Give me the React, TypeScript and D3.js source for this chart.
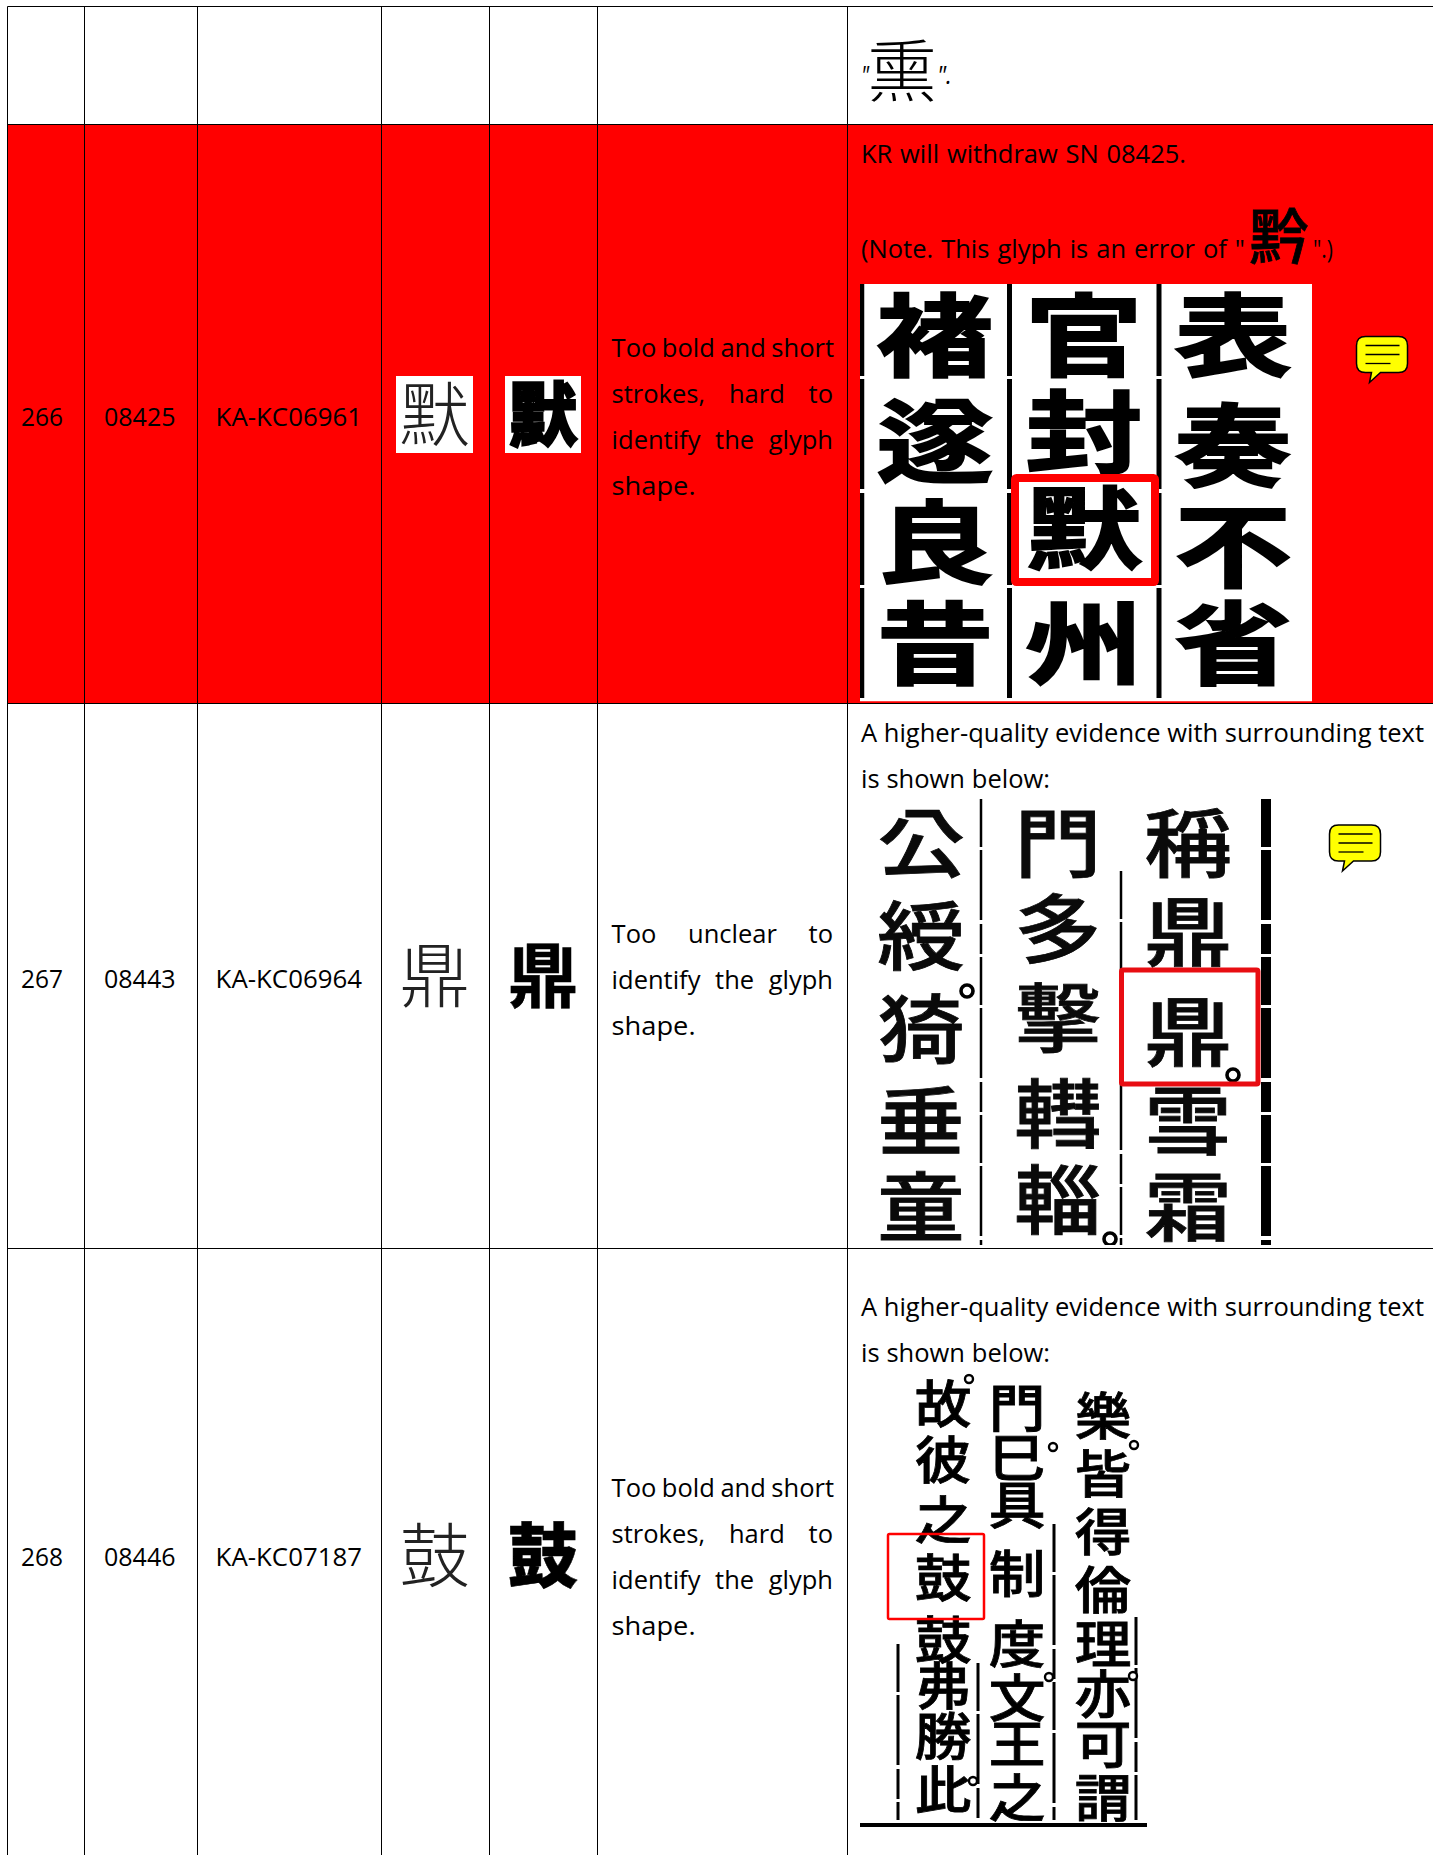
import * as d3 from "d3";
import React, { useRef, useEffect } from "react";

// table content
const rowNumbers = ["266", "267", "268"];
const sourceNumbers = ["08425", "08443", "08446"];
const sourceRefs = ["KA-KC06961", "KA-KC06964", "KA-KC07187"];
const glyphs = ["默", "鼎", "鼓"];
const descriptions = [
    ["Too bold and short", "strokes, hard to", "identify the glyph", "shape."],
    ["Too unclear to", "identify the glyph", "shape."],
    ["Too bold and short", "strokes, hard to", "identify the glyph", "shape."],
];
const comment266 = ["KR will withdraw SN 08425.", "(Note. This glyph is an error of \""];
const commentEvidence = ["A higher-quality evidence with surrounding text", "is shown below:"];

// evidence scans, column by column
const evidence266 = [["褚", "遂", "良", "昔"], ["官", "封", "默", "州"], ["表", "奏", "不", "省"]];
const evidence267 = [["公", "綬", "猗", "垂", "童"], ["門", "多", "擊", "轊", "輜"], ["稱", "鼎", "鼎", "雪", "霜"]];
const evidence268 = [
    ["故", "彼", "之", "鼓", "鼓", "弗", "勝", "此"],
    ["門", "巳", "具", "制", "度", "文", "王", "之"],
    ["樂", "皆", "得", "倫", "理", "亦", "可", "謂"],
];

const width = 1433;
const height = 1855;
const columnEdges = [7.5, 84.5, 197.5, 381.5, 489.5, 597.5, 847.5];
const rowEdges = [6.5, 124.5, 703.5, 1248.5];
const rowCenterY = [425.5, 987.5, 1566];
const descBaselines = [[357, 403, 449, 495], [943, 989, 1035], [1497, 1543, 1589, 1635]];
const thumbY = [[376, 453], [938, 1013], [1517, 1593]];
const cellSpans = [[21, 63], [104, 175.5], [215.6, 362]];
const sans = "'Open Sans', 'Noto Sans', sans-serif";
const cjk = "'Noto Sans CJK KR', 'Noto Sans CJK SC', sans-serif";

type Scan = {
    box: number[]; cols: string[][]; colX: number[]; rowY: number[][]; size: number;
    sx: number; sy: number; weight: number; stroke: number; fill: string;
    frame: number[]; frameW: number; rules: number[][]; rings: number[][]; ringR: number;
};

const scans: Scan[] = [
    {
        box: [860, 284, 1312, 701.5], cols: evidence266, colX: [935, 1084, 1233],
        rowY: [[335, 441, 542, 643], [335, 432, 528, 643], [335, 445, 546, 643]],
        size: 98, sx: 1.2, sy: 0.92, weight: 700, stroke: 2, fill: "#000",
        frame: [1015, 478, 1155, 582], frameW: 8,
        rules: [[862, 284, 701, 4.5], [1009.5, 284, 701, 5], [1159, 284, 701, 5]],
        rings: [], ringR: 0,
    },
    {
        box: [860, 799, 1272, 1245], cols: evidence267, colX: [921, 1058, 1188],
        rowY: [[843, 936, 1029, 1121, 1207], [843, 929, 1018, 1114, 1200], [843, 932, 1032, 1121, 1207]],
        size: 76, sx: 1.15, sy: 0.98, weight: 500, stroke: 0.8, fill: "#0a0a0a",
        frame: [1121.5, 970, 1258, 1084], frameW: 5,
        rules: [[981, 799, 1245, 2.5], [1121, 871, 1245, 2.5], [1266, 799, 1245, 10]],
        rings: [[967, 991], [1233, 1075], [1110, 1239]], ringR: 6,
    },
    {
        box: [860, 1373.5, 1147, 1829], cols: evidence268, colX: [943, 1017, 1103],
        rowY: [
            [1404, 1460, 1520, 1578, 1640, 1686, 1736, 1790],
            [1408, 1458, 1505, 1574, 1644, 1698, 1744, 1798],
            [1416, 1474, 1532, 1590, 1644, 1694, 1744, 1798],
        ],
        size: 54, sx: 1.05, sy: 0.94, weight: 500, stroke: 0.8, fill: "#000",
        frame: [888, 1534, 984, 1619], frameW: 2.5,
        rules: [[898, 1644, 1820, 3], [978, 1663, 1820, 3], [1054, 1524, 1820, 3], [1136, 1617, 1820, 3]],
        rings: [[969, 1379], [1053, 1447], [1134, 1445], [1049, 1677], [1133, 1676], [973, 1781]], ringR: 4,
    },
];

const Table = () => {
    const svgRef = useRef<SVGSVGElement>(null);

    useEffect(() => {
        const svg = d3.select(svgRef.current);
        svg.selectAll("*").remove();

        // measures the line, then widens the word gaps so it runs from x0 to x1
        const fitLine = (str: string, x0: number, x1: number, y: number, size = 25.5) => {
            const t = svg.append("text")
                .attr("x", x0).attr("y", y)
                .attr("font-family", sans).attr("font-size", size)
                .attr("fill", "#000")
                .style("white-space", "pre")
                .text(str);
            const natural = (t.node() as SVGTextElement).getComputedTextLength();
            const gaps = str.split(" ").length - 1;
            if (gaps > 0) t.attr("word-spacing", (x1 - x0 - natural) / gaps);
            else t.attr("textLength", x1 - x0).attr("lengthAdjust", "spacingAndGlyphs");
            return t;
        };

        const glyph = (g: any, ch: string, cx: number, cy: number, size: number, weight: number, opts: any = {}) => {
            const { sx = 1, sy = 1, stroke = 0, fill = "#000" } = opts;
            g.append("text")
                .attr("transform", `translate(${cx},${cy}) scale(${sx},${sy})`)
                .attr("y", size * 0.38)
                .attr("text-anchor", "middle")
                .attr("font-family", cjk).attr("font-size", size).attr("font-weight", weight)
                .attr("fill", fill)
                .attr("stroke", stroke ? fill : "none").attr("stroke-width", stroke)
                .text(ch);
        };

        // Red row behind the grid
        svg.append("rect").attr("x", 0).attr("y", 0).attr("width", width).attr("height", height).attr("fill", "#fff");
        svg.append("rect")
            .attr("x", columnEdges[0]).attr("y", rowEdges[1])
            .attr("width", width - columnEdges[0]).attr("height", rowEdges[2] - rowEdges[1])
            .attr("fill", "#ff0000");

        // Grid lines
        svg.append("g").attr("stroke", "#000").attr("stroke-width", 1)
            .selectAll("line").data(columnEdges).join("line")
            .attr("x1", d => d).attr("x2", d => d)
            .attr("y1", rowEdges[0]).attr("y2", height);
        svg.append("g").attr("stroke", "#000").attr("stroke-width", 1)
            .selectAll("line").data(rowEdges).join("line")
            .attr("x1", columnEdges[0]).attr("x2", width)
            .attr("y1", d => d).attr("y2", d => d);

        // Number columns
        rowNumbers.forEach((_, i) => {
            [rowNumbers[i], sourceNumbers[i], sourceRefs[i]].forEach((str, c) => {
                fitLine(str, cellSpans[c][0], cellSpans[c][1], rowCenterY[i]);
            });
        });

        // Glyph thumbnails, light and bold
        const thumbs = svg.append("g");
        glyphs.forEach((ch, i) => {
            const [y0, y1] = thumbY[i];
            const cy = (y0 + y1) / 2;
            thumbs.append("rect").attr("x", 396).attr("y", y0).attr("width", 77).attr("height", y1 - y0).attr("fill", "#fff");
            thumbs.append("rect").attr("x", 505).attr("y", y0).attr("width", 76).attr("height", y1 - y0).attr("fill", "#fff");
            glyph(thumbs, ch, 434.5, cy, 70, 300, { fill: "#222" });
            glyph(thumbs, ch, 543, cy, 70, i === 1 ? 700 : 900, { stroke: i === 0 ? 2 : 0.5 });
        });

        // Descriptions
        descriptions.forEach((lines, i) => {
            lines.forEach((str, l) => {
                const last = l === lines.length - 1;
                const end = last ? 611.6 + 84 : str === "Too bold and short" ? 834 : 833;
                fitLine(str, 611.6, end, descBaselines[i][l]);
            });
        });

        // Top row leftover glyph
        fitLine("\"", 861, 869, 84, 25.5).attr("font-style", "italic");
        glyph(svg, "熏", 902, 70, 70, 300, { sy: 0.98 });
        fitLine("\".", 937, 952, 84, 25.5).attr("font-style", "italic");

        // Comments
        fitLine(comment266[0], 861, 1186, 163);
        fitLine(comment266[1], 861, 1245, 258);
        glyph(svg, "黔", 1279, 236, 60, 500, { stroke: 0.8 });
        fitLine("\".)", 1313, 1333, 258);
        fitLine(commentEvidence[0], 861, 1424, 742);
        fitLine(commentEvidence[1], 861, 1050, 787.5);
        fitLine(commentEvidence[0], 861, 1424, 1316);
        fitLine(commentEvidence[1], 861, 1050, 1362);

        // Evidence scans
        scans.forEach((s, n) => {
            const [x0, y0, x1, y1] = s.box;
            const clipId = `scan-${n}`;
            svg.append("clipPath").attr("id", clipId).append("rect")
                .attr("x", x0).attr("y", y0).attr("width", x1 - x0).attr("height", y1 - y0);
            const g = svg.append("g").attr("clip-path", `url(#${clipId})`);
            g.append("rect").attr("x", x0).attr("y", y0).attr("width", x1 - x0).attr("height", y1 - y0).attr("fill", "#fff");
            g.selectAll("line").data(s.rules).join("line")
                .attr("x1", d => d[0]).attr("x2", d => d[0])
                .attr("y1", d => d[1]).attr("y2", d => d[2])
                .attr("stroke", "#000").attr("stroke-width", d => d[3])
                .attr("stroke-dasharray", n === 0 ? "92,3,110,4" : "48,3,70,4,30,3");
            s.cols.forEach((col, c) => {
                col.forEach((ch, r) => {
                    glyph(g, ch, s.colX[c], s.rowY[c][r], s.size, s.weight, { sx: s.sx, sy: s.sy, stroke: s.stroke, fill: s.fill });
                });
            });
            g.selectAll("circle").data(s.rings).join("circle")
                .attr("cx", d => d[0]).attr("cy", d => d[1]).attr("r", s.ringR)
                .attr("fill", "#fff").attr("stroke", "#000").attr("stroke-width", s.ringR * 0.6);
            if (n === 2) {
                g.append("line").attr("x1", x0).attr("x2", x1).attr("y1", 1825).attr("y2", 1825)
                    .attr("stroke", "#000").attr("stroke-width", 4);
            }
            const [fx0, fy0, fx1, fy1] = s.frame;
            g.append("rect").attr("x", fx0).attr("y", fy0).attr("width", fx1 - fx0).attr("height", fy1 - fy0)
                .attr("rx", 1.5).attr("fill", "none").attr("stroke", n === 1 ? "#e80d12" : "#ff0000").attr("stroke-width", s.frameW);
        });

        // Comment balloons
        const balloon = (x: number, y: number) => {
            const w = 51, h = 36, r = 9;
            const p = d3.path();
            p.moveTo(x + r, y);
            p.lineTo(x + w - r, y);
            p.quadraticCurveTo(x + w, y, x + w, y + r);
            p.lineTo(x + w, y + h - r);
            p.quadraticCurveTo(x + w, y + h, x + w - r, y + h);
            p.lineTo(x + 24, y + h);
            p.lineTo(x + 13, y + h + 10);
            p.lineTo(x + 15, y + h);
            p.lineTo(x + r, y + h);
            p.quadraticCurveTo(x, y + h, x, y + h - r);
            p.lineTo(x, y + r);
            p.quadraticCurveTo(x, y, x + r, y);
            p.closePath();
            svg.append("path").attr("d", p.toString())
                .attr("fill", "#ffff00").attr("stroke", "#000").attr("stroke-width", 1.5);
            [[9, 43, 9], [9, 43, 18], [9, 34, 27]].forEach(([a, b, dy]) => {
                svg.append("line").attr("x1", x + a).attr("x2", x + b)
                    .attr("y1", y + dy).attr("y2", y + dy)
                    .attr("stroke", "#000").attr("stroke-width", 1.3);
            });
        };
        balloon(1356.5, 336.5);
        balloon(1329.5, 825);
    }, []);

    return <svg ref={svgRef} width={width} height={height} style={{ position: "absolute", left: 0, top: 0 }} />;
};

export default function App() {
    return <Table />;
}
